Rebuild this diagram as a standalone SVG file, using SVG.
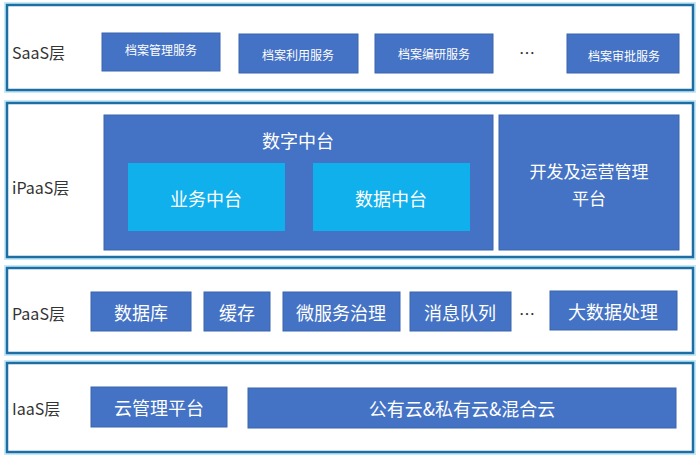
<svg xmlns="http://www.w3.org/2000/svg" width="700" height="456" viewBox="0 0 700 456">
<style>
.layer{fill:#ffffff;stroke:#1f6ea3;stroke-width:2.5}
.glow{fill:none;stroke:#c6ebf8;stroke-width:6}
.lbl{font-family:"Noto Sans CJK SC","Noto Sans",sans-serif;font-size:16px;fill:#333333}
.box{fill:#4472c4;stroke:#3a64ad;stroke-width:1}
.lbox{fill:#0fb0ec}
.t{font-family:"Noto Sans CJK SC","Noto Sans",sans-serif;fill:#ffffff;text-anchor:middle;dominant-baseline:central}
.s{font-size:12px}
.m{font-size:18px}
.m2{font-size:17px}
.dots{font-family:"Noto Sans CJK SC","Noto Sans",sans-serif;font-size:16px;fill:#333333;text-anchor:middle;dominant-baseline:central}
</style>
<rect width="700" height="456" fill="#ffffff"/>
<g id="connectors"></g>
<g id="layer-saas">
<rect class="glow" x="7" y="5" width="686" height="85"/>
<rect class="layer" x="7" y="5" width="686" height="85"/>
<text class="lbl" x="12" y="52" dominant-baseline="central">SaaS层</text>
</g>
<g id="saas-1"><rect class="box" x="102" y="33" width="118" height="38"/><text class="t s" x="161" y="49">档案管理服务</text></g>
<g id="saas-2"><rect class="box" x="239" y="34" width="119" height="39"/><text class="t s" x="298" y="54">档案利用服务</text></g>
<g id="saas-3"><rect class="box" x="375" y="34" width="118" height="39"/><text class="t s" x="434" y="53">档案编研服务</text></g>
<text class="dots" x="527" y="52">…</text>
<g id="saas-4"><rect class="box" x="567" y="34" width="112" height="39"/><text class="t s" x="624" y="55">档案审批服务</text></g>

<g id="layer-ipaas">
<rect class="glow" x="7" y="103" width="686" height="154"/>
<rect class="layer" x="7" y="103" width="686" height="154"/>
<text class="lbl" x="12" y="187" dominant-baseline="central">iPaaS层</text>
</g>
<g id="digital-platform"><rect class="box" x="104" y="115" width="389" height="135"/><text class="t m" x="298" y="140">数字中台</text></g>
<g id="business-platform"><rect class="lbox" x="128" y="163" width="157" height="68"/><text class="t m" x="206" y="198">业务中台</text></g>
<g id="data-platform"><rect class="lbox" x="313" y="163" width="157" height="68"/><text class="t m" x="391" y="198">数据中台</text></g>
<g id="devops-platform"><rect class="box" x="499" y="115" width="180" height="135"/><text class="t m2" x="589" y="170">开发及运营管理</text><text class="t m2" x="589" y="197">平台</text></g>

<g id="layer-paas">
<rect class="glow" x="7" y="268" width="686" height="85"/>
<rect class="layer" x="7" y="268" width="686" height="85"/>
<text class="lbl" x="12" y="313" dominant-baseline="central">PaaS层</text>
</g>
<g id="paas-db"><rect class="box" x="91" y="292" width="100" height="39"/><text class="t m" x="141" y="312">数据库</text></g>
<g id="paas-cache"><rect class="box" x="204" y="292" width="66" height="39"/><text class="t m" x="237" y="312">缓存</text></g>
<g id="paas-ms"><rect class="box" x="283" y="292" width="117" height="39"/><text class="t m" x="341" y="312">微服务治理</text></g>
<g id="paas-mq"><rect class="box" x="410" y="292" width="101" height="39"/><text class="t m" x="460" y="312">消息队列</text></g>
<text class="dots" x="527" y="313">…</text>
<g id="paas-bigdata"><rect class="box" x="550" y="291" width="127" height="39"/><text class="t m" x="613" y="311">大数据处理</text></g>

<g id="layer-iaas">
<rect class="glow" x="7" y="363" width="686" height="89"/>
<rect class="layer" x="7" y="363" width="686" height="89"/>
<text class="lbl" x="12" y="408" dominant-baseline="central">IaaS层</text>
</g>
<g id="iaas-cmp"><rect class="box" x="91" y="387" width="136" height="40"/><text class="t m" x="159" y="407">云管理平台</text></g>
<g id="iaas-cloud"><rect class="box" x="248" y="388" width="428" height="40"/><text class="t m" x="462" y="408">公有云&amp;私有云&amp;混合云</text></g>
</svg>
